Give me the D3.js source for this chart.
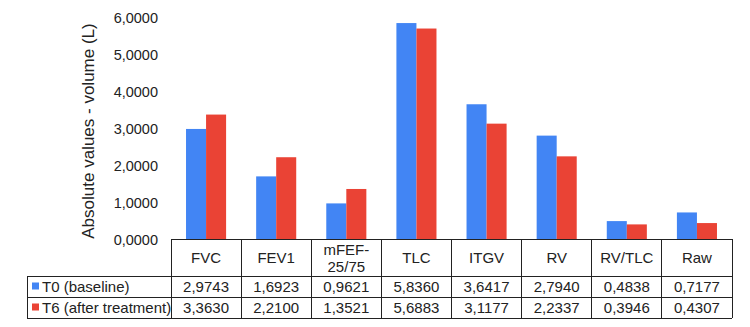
<!DOCTYPE html>
<html>
<head>
<meta charset="utf-8">
<script src="https://cdn.jsdelivr.net/npm/d3@7"></script>
<style>
  body { margin: 0; background: #fff; }
  text { font-family: "Liberation Sans", Arial, sans-serif; fill: #222; }
</style>
</head>
<body>
<div id="my_dataviz"></div>
<script>
// data
var categories = ["FVC", "FEV1", "mFEF-25/75", "TLC", "ITGV", "RV", "RV/TLC", "Raw"];
var seriesNames = ["T0 (baseline)", "T6 (after treatment)"];
var t0Values = [2.9743, 1.6923, 0.9621, 5.8360, 3.6417, 2.7940, 0.4838, 0.7177];
var t6Values = [3.3630, 2.2100, 1.3521, 5.6883, 3.1177, 2.2337, 0.3946, 0.4307];
var yTicks = [0, 1, 2, 3, 4, 5, 6];
var colors = ["#4285f4", "#ea4335"];

var width = 750, height = 327;
var plotLeft = 171, plotRight = 732, plotTop = 17, plotBottom = 239;
var tableLeft = 27, headerH = 37, rowH = 21;

var svg = d3.select("#my_dataviz")
  .append("svg")
    .attr("width", width)
    .attr("height", height);

var x0 = d3.scaleBand()
  .domain(categories)
  .range([plotLeft, plotRight]);

var x1 = d3.scaleBand()
  .domain(seriesNames)
  .range([0, x0.bandwidth()])
  .paddingOuter(0.75);

var y = d3.scaleLinear()
  .domain([0, 6])
  .range([plotBottom, plotTop]);

var fmt = function(v) { return d3.format(".4f")(v).replace(".", ","); };

// y axis
var yAxis = svg.append("g")
  .attr("transform", "translate(" + (plotLeft - 13) + ",0)")
  .call(d3.axisLeft(y).tickValues(yTicks).tickSize(0).tickFormat(fmt));
yAxis.select(".domain").remove();
yAxis.selectAll("text")
  .style("font-size", "14.5px")
  .attr("x", 0)
  .attr("dy", "0.35em")
  .style("font-family", "'Liberation Sans', Arial, sans-serif")
  .style("fill", "#222");

svg.append("text")
  .attr("transform", "rotate(-90)")
  .attr("x", -(plotTop + plotBottom) / 2 - 3)
  .attr("y", 88)
  .attr("dy", "0.35em")
  .style("text-anchor", "middle")
  .style("font-size", "17px")
  .text("Absolute values - volume (L)");

// bars
var rows = categories.map(function(c, i) {
  return { cat: c, vals: [t0Values[i], t6Values[i]] };
});

var groups = svg.selectAll("g.grp")
  .data(rows)
  .enter()
  .append("g")
    .attr("class", "grp")
    .attr("transform", function(d) { return "translate(" + x0(d.cat) + ",0)"; });

groups.selectAll("rect")
  .data(function(d) { return d.vals.map(function(v, j) { return { s: seriesNames[j], v: v, j: j }; }); })
  .enter()
  .append("rect")
    .attr("x", function(d) { return x1(d.s); })
    .attr("width", x1.bandwidth())
    .attr("y", function(d) { return y(d.v); })
    .attr("height", function(d) { return plotBottom - y(d.v); })
    .attr("fill", function(d) { return colors[d.j]; });

// data table
var tbl = svg.append("g");
var lineColor = "#222";
var r1 = plotBottom + headerH, r2 = r1 + rowH, r3 = r2 + rowH;

function hline(x1_, x2_, yy) {
  tbl.append("line").attr("x1", x1_).attr("x2", x2_).attr("y1", yy).attr("y2", yy)
    .attr("stroke", lineColor).attr("stroke-width", 1).attr("shape-rendering", "crispEdges");
}
function vline(xx, y1_, y2_) {
  tbl.append("line").attr("x1", xx).attr("x2", xx).attr("y1", y1_).attr("y2", y2_)
    .attr("stroke", lineColor).attr("stroke-width", 1).attr("shape-rendering", "crispEdges");
}

hline(plotLeft, plotRight, plotBottom);
hline(tableLeft, plotRight, r1);
hline(tableLeft, plotRight, r2);
hline(tableLeft, plotRight, r3);
vline(tableLeft, r1, r3);
categories.forEach(function(c) { vline(x0(c), plotBottom, r3); });
vline(plotRight, plotBottom, r3);

// header labels
categories.forEach(function(c) {
  var cx = x0(c) + x0.bandwidth() / 2;
  var t = tbl.append("text")
    .attr("x", cx)
    .style("text-anchor", "middle")
    .style("font-size", "15px");
  if (c === "mFEF-25/75") {
    t.append("tspan").attr("x", cx).attr("y", plotBottom + headerH / 2 - 8).attr("dy", "0.35em").text("mFEF-");
    t.append("tspan").attr("x", cx).attr("y", plotBottom + headerH / 2 + 9).attr("dy", "0.35em").text("25/75");
  } else {
    t.attr("y", plotBottom + headerH / 2).attr("dy", "0.35em").text(c);
  }
});

// value rows with legend keys
[t0Values, t6Values].forEach(function(vals, j) {
  var cy = r1 + rowH * j + rowH / 2;
  tbl.append("rect")
    .attr("x", tableLeft + 5)
    .attr("y", cy - 4)
    .attr("width", 7)
    .attr("height", 7)
    .attr("fill", colors[j]);
  tbl.append("text")
    .attr("x", tableLeft + 15)
    .attr("y", cy)
    .attr("dy", "0.35em")
    .style("font-size", "15px")
    .text(seriesNames[j]);
  vals.forEach(function(v, i) {
    tbl.append("text")
      .attr("x", x0(categories[i]) + x0.bandwidth() / 2)
      .attr("y", cy)
      .attr("dy", "0.35em")
      .style("text-anchor", "middle")
      .style("font-size", "15px")
      .text(fmt(v));
  });
});
</script>
</body>
</html>
